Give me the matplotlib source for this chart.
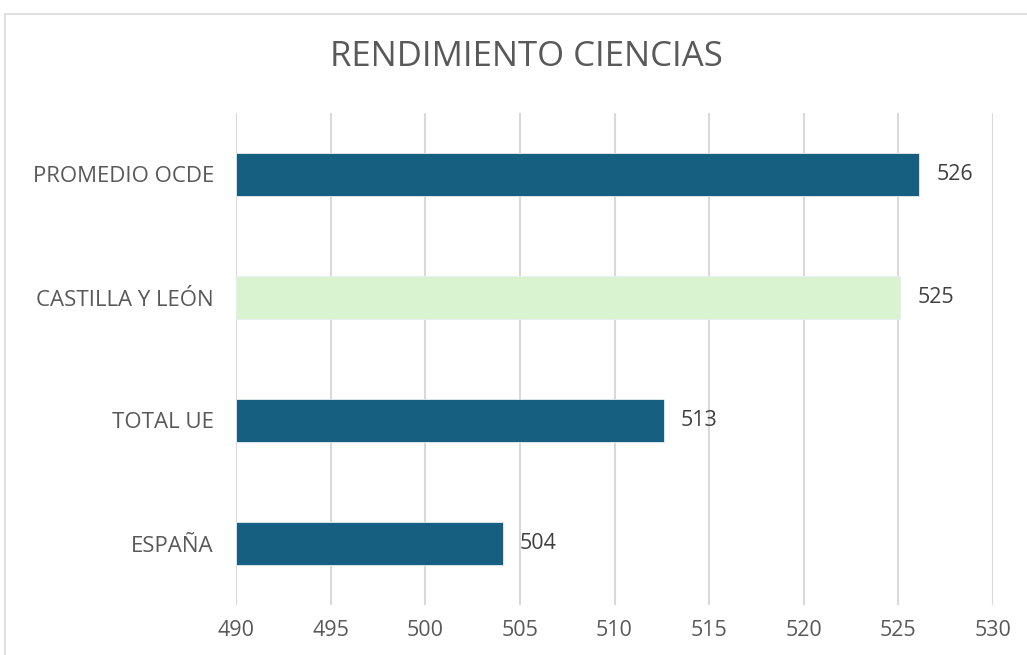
import matplotlib.pyplot as plt
from matplotlib.patches import Rectangle

categorias = ['ESPAÑA', 'TOTAL UE', 'CASTILLA Y LEÓN', 'PROMEDIO OCDE']
valores = [504.1, 512.6, 525.1, 526.1]
colores = ['#175F80', '#175F80', '#D9F2D0', '#175F80']
ticks_x = [490, 495, 500, 505, 510, 515, 520, 525, 530]
base = 490

plt.rcParams['font.family'] = ['Open Sans', 'DejaVu Sans']
gris = '#595959'

fig = plt.figure(figsize=(10.27, 6.55), dpi=100)
# marco del gráfico
fig.patches.append(Rectangle((5 / 1027, -0.1), 1.2, 1 - 14 / 655 + 0.1,
                             transform=fig.transFigure, fill=False,
                             edgecolor='#D9D9D9', linewidth=1.2))

ax = fig.add_axes([236 / 1027, 1 - 605 / 655, (993 - 236) / 1027, (605 - 113) / 655])
ax.barh(categorias, [v - base for v in valores], left=base, height=0.345,
        color=colores, edgecolor='#E8EEF2', linewidth=0.6)
for y, v in enumerate(valores):
    ax.text(v + 0.9, y, f'{round(v):.0f}', va='center', ha='left',
            fontsize=15.5, color='#404040')

ax.set_xlim(490, 530)
ax.set_ylim(-0.5, 3.5)
ax.set_xticks(ticks_x)
ax.grid(axis='x', color='#D9D9D9', linewidth=1.5)
ax.set_axisbelow(True)
for s in ax.spines.values():
    s.set_visible(False)
ax.tick_params(length=0, labelsize=15.5, colors=gris, pad=11)
ax.tick_params(axis='y', pad=16, labelsize=16)

fig.text(526 / 1027, 1 - 57 / 655, 'RENDIMIENTO CIENCIAS', ha='center', va='center',
         fontsize=25, color=gris)

fig.savefig('out.png', dpi=100)
